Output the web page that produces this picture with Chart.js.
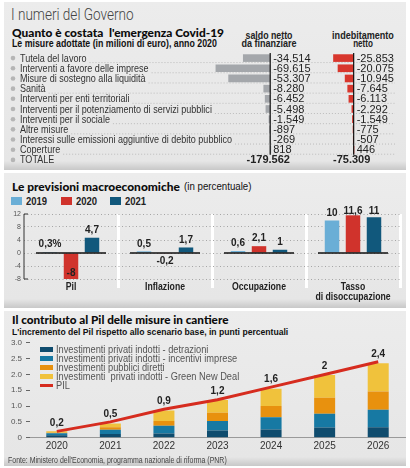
<!DOCTYPE html>
<html>
<head>
<meta charset="utf-8">
<script src="https://cdn.jsdelivr.net/npm/chart.js@4/dist/chart.umd.min.js"></script>
<style>
body { margin: 0; width: 410px; height: 468px; background: #fff; position: relative; overflow: hidden; font-family: "Liberation Sans", Arial, sans-serif; }
.panel { position: absolute; left: 4px; width: 402px; background: linear-gradient(to bottom, #ececec 0, #e6e6e6 calc(100% - 9px), #c8c8c8 100%); }
.t { position: absolute; white-space: nowrap; line-height: 1; color: #111; transform-origin: 0 50%; }
.titolo { font-family: Lato, "Liberation Sans", sans-serif; font-weight: 900; font-size: 11.5px; color: #0c0c0c; }
.centro { transform-origin: 50% 50%; text-align: center; }
canvas { position: absolute; }
#legPrev { position: absolute; left: 11px; top: 196px; }
#legPrev div { position: relative; float: left; width: 49.5px; height: 10px; }
#legPrev span.q { position: absolute; left: 0; top: 1px; width: 11px; height: 8px; }
#legPrev span.l { position: absolute; left: 15px; top: 0; font-weight: bold; font-size: 11px; line-height: 10px; color: #222; transform-origin: 0 50%; white-space: nowrap; }
#legPnr { position: absolute; left: 40px; top: 344.5px; }
#legPnr div { position: relative; height: 9.2px; }
#legPnr span.q { position: absolute; left: 0; width: 13px; }
#legPnr span.l { position: absolute; left: 16px; top: -1px; font-size: 11px; line-height: 11px; color: #555; transform-origin: 0 50%; white-space: nowrap; }
</style>
</head>
<body>
<div class="panel" style="top:2px;height:168px"></div>
<div class="panel" style="top:173px;height:135px"></div>
<div class="panel" style="top:311px;height:155px"></div>

<div class="t" data-w="123" style="left:11px;top:7px;font-family:Roboto,sans-serif;font-weight:300;font-size:16px;color:#444">I numeri del Governo</div>
<div class="t titolo" data-w="212" style="left:12px;top:26.5px">Quanto è costata&nbsp; l'emergenza Covid-19</div>
<div class="t" data-w="205" style="left:12px;top:38.5px;font-size:10px;font-weight:bold">Le misure adottate (in milioni di euro), anno 2020</div>
<div class="t centro" data-w="47" style="left:268.5px;top:29.8px;font-size:10.5px;font-weight:bold;color:#222">saldo netto</div>
<div class="t centro" data-w="55" style="left:268.5px;top:38.3px;font-size:10.5px;font-weight:bold;color:#222">da finanziare</div>
<div class="t centro" data-w="62" style="left:363px;top:29.8px;font-size:10.5px;font-weight:bold;color:#222">indebitamento</div>
<div class="t centro" data-w="20" style="left:363px;top:38.3px;font-size:10.5px;font-weight:bold;color:#222">netto</div>
<canvas id="tabella" width="400" height="112" style="left:5px;top:53px"></canvas>

<div class="t titolo" data-w="168" style="left:12px;top:180.5px">Le previsioni macroeconomiche</div>
<div class="t" data-w="67" style="left:184px;top:181.5px;font-size:10px;color:#111">(in percentuale)</div>
<div id="legPrev"></div>
<canvas id="previsioni" width="410" height="105" style="left:0;top:200px"></canvas>

<div class="t titolo" data-w="216" style="left:12px;top:313.5px">Il contributo al Pil delle misure in cantiere</div>
<div class="t" data-w="276" style="left:12px;top:326.5px;font-size:9.5px;font-weight:bold">L'incremento del Pil rispetto allo scenario base, in punti percentuali</div>
<canvas id="pnr" width="410" height="122" style="left:0;top:334px"></canvas>
<div id="legPnr"></div>
<div class="t" data-w="219" style="left:8px;top:456px;font-size:8.5px;color:#444">Fonte: Ministero dell'Economia, programma nazionale di riforma (PNR)</div>

<script>
const SANS = '"Liberation Sans", Arial, sans-serif';

// tabella misure (milioni di euro)
const misure = ["Tutela del lavoro", "Interventi a favore delle imprese", "Misure di sostegno alla liquidità", "Sanità",
    "Interventi per enti territoriali", "Interventi per il potenziamento di servizi pubblici", "Interventi per il sociale",
    "Altre misure", "Interessi sulle emissioni aggiuntive di debito pubblico", "Coperture", "TOTALE"];
const saldoNetto = [-34514, -69615, -53307, -8280, -6452, -5498, -1549, -897, -269, 818, null];
const indebitamento = [-25853, -20075, -10945, -7645, -6113, -2292, -1549, -775, -507, 446, null];
const totali = [-179562, -75309];

// previsioni macroeconomiche
const indicatori = ["Pil", "Inflazione", "Occupazione", ["Tasso", "di disoccupazione"]];
const anni = ["2019", "2020", "2021"];
const prev2019 = [0.3, 0.5, 0.6, 10];
const prev2020 = [-8, -0.2, 2.1, 11.6];
const prev2021 = [4.7, 1.7, 1, 11];

// contributo al Pil
const anniPnr = ["2020", "2021", "2022", "2023", "2024", "2025", "2026"];
const detrazioni = [0.08, 0.12, 0.13, 0.23, 0.26, 0.32, 0.33];
const incentivi = [0.06, 0.13, 0.25, 0.30, 0.39, 0.44, 0.55];
const pubblici = [0.02, 0.08, 0.15, 0.26, 0.35, 0.50, 0.58];
const greenDeal = [0.04, 0.12, 0.33, 0.40, 0.55, 0.72, 0.89];
const pil = [0.2, 0.5, 0.9, 1.2, 1.6, 2, 2.4];

function migliaia(v) {
    return String(v).replace(/\B(?=(\d{3})+(?!\d))/g, ".");
}
function virgola(v) {
    return String(v).replace(".", ",");
}
// testo condensato sul canvas
function testoStretto(ctx, txt, x, y, k, align) {
    ctx.save();
    ctx.translate(x, y);
    ctx.scale(k, 1);
    ctx.textAlign = align || "left";
    ctx.fillText(txt, 0, 0);
    ctx.restore();
}
// stringe un testo html alla larghezza voluta
function adatta(el, w) {
    const k = w / el.offsetWidth;
    el.style.transform = (el.classList.contains("centro") ? "translateX(-50%) " : "") + "scaleX(" + k + ")";
}
document.querySelectorAll("[data-w]").forEach(function (el) {
    adatta(el, parseFloat(el.dataset.w));
});

// disegna etichette, pallini, puntini, assi e valori della tabella
const tabellaPlugin = {
    id: "tabellaPlugin",
    beforeDatasetsDraw(chart) {
        const ctx = chart.ctx;
        const y = chart.scales.y;
        ctx.save();
        ctx.font = "11px " + SANS;
        ctx.textBaseline = "middle";
        const k = 212 / ctx.measureText(misure[8]).width;
        for (let i = 0; i < misure.length; i++) {
            const py = y.getPixelForValue(i);
            ctx.fillStyle = "#b5b5b5";
            ctx.beginPath();
            ctx.arc(8, py, 2.3, 0, Math.PI * 2);
            ctx.fill();
            const w = ctx.measureText(misure[i]).width * k;
            if (i < misure.length - 1) {
                ctx.strokeStyle = "#bcbcbc";
                ctx.setLineDash([1, 2]);
                ctx.lineWidth = 1;
                ctx.beginPath();
                ctx.moveTo(15 + w + 3, py + 4.5);
                ctx.lineTo(chart.chartArea.right, py + 4.5);
                ctx.stroke();
                ctx.setLineDash([]);
            }
            ctx.fillStyle = "#333";
            testoStretto(ctx, misure[i], 15, py + 0.5, k);
        }
        ctx.restore();
    },
    afterDatasetsDraw(chart) {
        const ctx = chart.ctx;
        const y = chart.scales.y;
        const assi = [chart.scales.x1, chart.scales.x2];
        const serie = [saldoNetto, indebitamento];
        const top = y.getPixelForValue(0) - 5;
        const bottom = y.getPixelForValue(misure.length - 2) + 5;
        ctx.save();
        ctx.textBaseline = "middle";
        assi.forEach(function (asse, k) {
            const x0 = asse.getPixelForValue(0);
            ctx.strokeStyle = "#111";
            ctx.lineWidth = 1.2;
            ctx.beginPath();
            ctx.moveTo(x0, top);
            ctx.lineTo(x0, bottom);
            ctx.stroke();
            ctx.fillStyle = "#222";
            ctx.font = "11px " + SANS;
            ctx.textAlign = "left";
            serie[k].forEach(function (v, i) {
                if (v === null) return;
                ctx.fillText(migliaia(v), x0 + 3, y.getPixelForValue(i) + 0.5);
            });
            ctx.font = "bold 11px " + SANS;
            ctx.textAlign = "center";
            ctx.fillText(migliaia(totali[k]), x0 - 2, y.getPixelForValue(misure.length - 1) + 0.5);
        });
        ctx.restore();
    }
};

new Chart(document.getElementById("tabella"), {
    type: "bar",
    data: {
        labels: misure,
        datasets: [{
            label: "saldo netto da finanziare",
            data: saldoNetto,
            xAxisID: "x1",
            backgroundColor: "#a4a7ab",
            barThickness: 7,
            grouped: false
        }, {
            label: "indebitamento netto",
            data: indebitamento,
            xAxisID: "x2",
            backgroundColor: "#d8372d",
            barThickness: 7,
            grouped: false
        }]
    },
    options: {
        indexAxis: "y",
        responsive: false,
        animation: false,
        layout: { padding: { left: 195, right: 10, top: 0, bottom: 0 } },
        plugins: { legend: { display: false }, tooltip: { enabled: false } },
        scales: {
            x1: { type: "linear", display: false, min: -90000, max: 160000 },
            x2: { type: "linear", display: false, min: -197000, max: 53000 },
            y: { display: false }
        }
    },
    plugins: [tabellaPlugin]
});

// previsioni
const coloriAnni = ["#6aaed6", "#d0332c", "#11587c"];
const legPrev = document.getElementById("legPrev");
anni.forEach(function (a, i) {
    const d = document.createElement("div");
    d.innerHTML = '<span class="q" style="background:' + coloriAnni[i] + '"></span><span class="l">' + a + "</span>";
    legPrev.appendChild(d);
    adatta(d.querySelector(".l"), 20.7);
});

const previsioniPlugin = {
    id: "previsioniPlugin",
    afterDatasetsDraw(chart) {
        const ctx = chart.ctx;
        const x = chart.scales.x;
        const y = chart.scales.y;
        const area = chart.chartArea;
        const y0 = y.getPixelForValue(0);
        ctx.save();
        // asse verticale
        ctx.strokeStyle = "#333";
        ctx.lineWidth = 1;
        ctx.beginPath();
        ctx.moveTo(area.left + 4, area.top);
        ctx.lineTo(area.left, area.top);
        ctx.lineTo(area.left, area.bottom);
        ctx.lineTo(area.left + 4, area.bottom);
        ctx.stroke();
        // linee dello zero ed etichette delle categorie
        ctx.strokeStyle = "#111";
        ctx.lineWidth = 1.3;
        ctx.font = "bold 11px " + SANS;
        ctx.fillStyle = "#222";
        ctx.textBaseline = "middle";
        const k = 54 / ctx.measureText("Occupazione").width;
        indicatori.forEach(function (c, i) {
            const cx = x.getPixelForValue(i);
            ctx.beginPath();
            ctx.moveTo(cx - 35, y0);
            ctx.lineTo(cx + 35, y0);
            ctx.stroke();
            const righe = Array.isArray(c) ? c : [c];
            righe.forEach(function (r, j) {
                testoStretto(ctx, r, cx, area.bottom + 7.5 + j * 10.5, k, "center");
            });
        });
        // valori
        ctx.font = "bold 10px " + SANS;
        ctx.textAlign = "center";
        chart.data.datasets.forEach(function (ds, di) {
            const meta = chart.getDatasetMeta(di);
            meta.data.forEach(function (bar, i) {
                const v = ds.data[i];
                let txt = virgola(v);
                if (di === 0 && i === 0) txt += "%";
                let ty;
                if (v >= 0) ty = Math.max(bar.y - 7.5, area.top - 3);
                else ty = Math.min(bar.y + 8, area.bottom - 6);
                ctx.fillText(txt, bar.x, ty);
            });
        });
        ctx.restore();
    }
};

new Chart(document.getElementById("previsioni"), {
    type: "bar",
    data: {
        labels: indicatori,
        datasets: [
            { label: anni[0], data: prev2019, backgroundColor: coloriAnni[0] },
            { label: anni[1], data: prev2020, backgroundColor: coloriAnni[1] },
            { label: anni[2], data: prev2021, backgroundColor: coloriAnni[2] }
        ]
    },
    options: {
        responsive: false,
        animation: false,
        layout: { padding: { left: 0, right: 10, top: 14, bottom: 0 } },
        plugins: { legend: { display: false }, tooltip: { enabled: false } },
        datasets: { bar: { barPercentage: 0.69, categoryPercentage: 0.67 } },
        scales: {
            x: {
                z: 1,
                grid: {
                    offset: true,
                    lineWidth: 3,
                    tickLength: 9,
                    color: function (c) { return (c.index === 0 || c.index === indicatori.length) ? "rgba(0,0,0,0)" : "#fff"; },
                    tickColor: function (c) { return (c.index === 0 || c.index === indicatori.length) ? "rgba(0,0,0,0)" : "#fff"; }
                },
                border: { display: false },
                ticks: { display: false },
                afterFit: function (s) { s.height = 26; }
            },
            y: {
                min: -8,
                max: 12,
                grid: { color: "#a5a5a5", drawTicks: false, borderDash: [1, 2.5] },
                border: { display: false, dash: [1, 2.5] },
                ticks: { stepSize: 2, padding: 3, color: "#555", font: { family: SANS, size: 7 } },
                afterFit: function (s) { s.width = 24; }
            }
        }
    },
    plugins: [previsioniPlugin]
});

// contributo al Pil
const coloriPnr = ["#0f4c6e", "#1779a3", "#e8910e", "#f0c23c"];
const etichettePnr = ["Investimenti privati indotti - detrazioni", "Investimenti privati indotti - incentivi imprese",
    "Investimenti pubblici diretti", "Investimenti  privati indotti - Green New Deal"];
const seriePnr = [detrazioni, incentivi, pubblici, greenDeal];

const datasetsPnr = seriePnr.map(function (s, i) {
    return { type: "bar", label: etichettePnr[i], data: s, backgroundColor: coloriPnr[i], order: 1, stack: "misure" };
});
datasetsPnr.push({
    type: "line", label: "PIL", data: pil, borderColor: "#d62c1f", backgroundColor: "#d62c1f",
    borderWidth: 3, pointRadius: 0, order: 0, stack: "pil", tension: 0
});

const legPnr = document.getElementById("legPnr");
const vociPnr = [];
datasetsPnr.forEach(function (ds) {
    const d = document.createElement("div");
    const h = ds.type === "line" ? 3 : 5;
    d.innerHTML = '<span class="q" style="top:' + (4.6 - h / 2) + 'px;height:' + h + 'px;background:' + ds.backgroundColor + '"></span>' +
        '<span class="l">' + ds.label.replace(/  /g, " &nbsp;") + "</span>";
    legPnr.appendChild(d);
    vociPnr.push(d.querySelector(".l"));
});
const kPnr = 181 / vociPnr[1].offsetWidth;
vociPnr.forEach(function (el) {
    el.style.transform = "scaleX(" + kPnr + ")";
});

const pnrPlugin = {
    id: "pnrPlugin",
    afterDatasetsDraw(chart) {
        const ctx = chart.ctx;
        const li = chart.data.datasets.length - 1;
        const meta = chart.getDatasetMeta(li);
        ctx.save();
        ctx.font = "bold 10px " + SANS;
        ctx.fillStyle = "#222";
        ctx.textAlign = "center";
        ctx.textBaseline = "middle";
        meta.data.forEach(function (pt, i) {
            ctx.fillText(virgola(pil[i]), pt.x, pt.y - 8);
        });
        ctx.restore();
    }
};

new Chart(document.getElementById("pnr"), {
    data: { labels: anniPnr, datasets: datasetsPnr },
    options: {
        responsive: false,
        animation: false,
        layout: { padding: { left: 0, right: 5, top: 8.7, bottom: 0 } },
        plugins: { legend: { display: false }, tooltip: { enabled: false } },
        datasets: { bar: { barPercentage: 0.49, categoryPercentage: 0.8 } },
        scales: {
            x: {
                stacked: true,
                grid: { display: false, drawTicks: false },
                border: { display: true, color: "#9a9a9a", width: 1 },
                ticks: { padding: 3, color: "#333", maxRotation: 0, font: { family: SANS, size: 10 } },
                afterFit: function (s) { s.height = 18.3; }
            },
            y: {
                stacked: true,
                min: 0,
                max: 3,
                grid: { drawOnChartArea: false, drawTicks: true, tickLength: 4, color: "#666" },
                border: { display: false },
                ticks: { stepSize: 0.5, padding: 4, color: "#555", font: { family: SANS, size: 8 } },
                afterFit: function (s) { s.width = 30; }
            }
        }
    },
    plugins: [pnrPlugin]
});
</script>
</body>
</html>
